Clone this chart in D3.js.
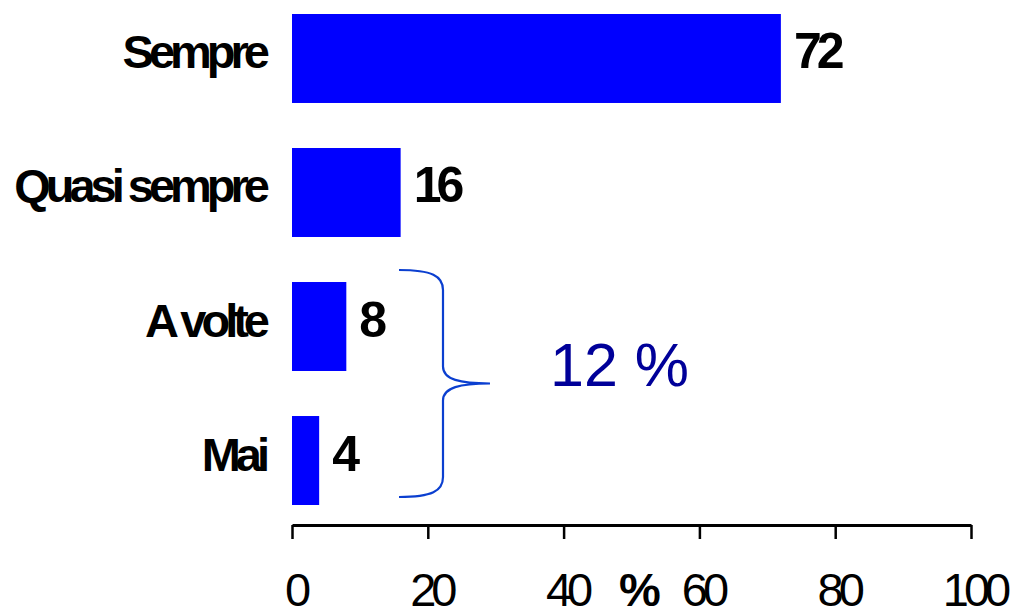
<!DOCTYPE html>
<html>
<head>
<meta charset="utf-8">
<script src="https://cdn.jsdelivr.net/npm/d3@7"></script>
<style>
  body { margin: 0; background: #fff; }
  text { font-family: "Liberation Sans", Arial, sans-serif; }
</style>
</head>
<body>
<div id="chart-area"></div>
<script>
const WIDTH = 1010;
const HEIGHT = 606;

// data
const categories = ["Sempre", "Quasi sempre", "A volte", "Mai"];
const values = [72, 16, 8, 4];
const xTicks = [0, 20, 40, 60, 80, 100];
const groupLabel = "12 %";
const axisTitle = "%";

const svg = d3.select("#chart-area").append("svg")
  .attr("width", WIDTH)
  .attr("height", HEIGHT);

//scales;
const x = d3.scaleLinear()
  .domain([0, 100])
  .range([292, 971]);

const y = d3.scaleBand()
  .domain(categories)
  .range([14, 505])
  .paddingInner(0.336)
  .paddingOuter(0);

// bars
svg.selectAll("rect.bar")
  .data(values)
  .enter().append("rect")
    .attr("class", "bar")
    .attr("x", x(0))
    .attr("y", (d, i) => y(categories[i]))
    .attr("width", d => x(d) - x(0))
    .attr("height", y.bandwidth())
    .attr("fill", "#0000ff");

// value labels
svg.selectAll("text.value")
  .data(values)
  .enter().append("text")
    .attr("class", "value")
    .attr("x", d => x(d) + 13)
    .attr("y", (d, i) => y(categories[i]) + y.bandwidth() / 2 + 10)
    .attr("font-size", "50px")
    .attr("font-weight", "bold")
    .attr("letter-spacing", "-5px")
    .text(d => d);

// category labels
svg.selectAll("text.cat")
  .data(categories)
  .enter().append("text")
    .attr("class", "cat")
    .attr("x", 265)
    .attr("y", d => y(d) + y.bandwidth() / 2 + 10)
    .attr("font-size", "47px")
    .attr("font-weight", "bold")
    .attr("letter-spacing", "-5px")
    .attr("text-anchor", "end")
    .text(d => d);

// x axis
const xAxis = d3.axisBottom(x)
  .tickValues(xTicks)
  .tickSize(14)
  .tickPadding(0)
  .tickSizeOuter(0);

const xAxisGroup = svg.append("g")
  .attr("transform", "translate(0, 525)")
  .call(xAxis);

xAxisGroup.select(".domain")
  .attr("stroke", "#000")
  .attr("stroke-width", 3);

xAxisGroup.selectAll(".tick line")
  .attr("stroke", "#000")
  .attr("stroke-width", 2.5);

xAxisGroup.selectAll(".tick text")
  .attr("y", 80.5)
  .attr("dy", 0)
  .attr("dx", 3)
  .attr("font-size", "47px")
  .attr("letter-spacing", "-5px")
  .attr("fill", "#000")
  .attr("font-family", "'Liberation Sans', Arial, sans-serif");

// % title
svg.append("text")
  .attr("x", 640)
  .attr("y", 605.5)
  .attr("font-size", "47px")
  .attr("font-weight", "bold")
  .attr("text-anchor", "middle")
  .text(axisTitle);

// brace around the last two bars
const braceTop = y("A volte") - 12;
const braceBottom = y("Mai") + y.bandwidth() - 8;
const mid = (braceTop + braceBottom) / 2;
const bx = 443;
const x0 = 399;
const tip = 490;

const brace = d3.path();
brace.moveTo(x0, braceTop);
brace.bezierCurveTo(432, braceTop, bx, braceTop + 6, bx, braceTop + 20);
brace.lineTo(bx, mid - 17);
brace.bezierCurveTo(bx, mid - 4, 460, mid, tip, mid);
brace.bezierCurveTo(460, mid, bx, mid + 4, bx, mid + 17);
brace.lineTo(bx, braceBottom - 20);
brace.bezierCurveTo(bx, braceBottom - 6, 432, braceBottom, x0, braceBottom);

svg.append("path")
  .attr("d", brace.toString())
  .attr("fill", "none")
  .attr("stroke", "#0b3fd0")
  .attr("stroke-width", 2.2);

svg.append("text")
  .attr("x", 550)
  .attr("y", 386)
  .attr("font-size", "61px")
  .attr("fill", "#000099")
  .text(groupLabel);
</script>
</body>
</html>
